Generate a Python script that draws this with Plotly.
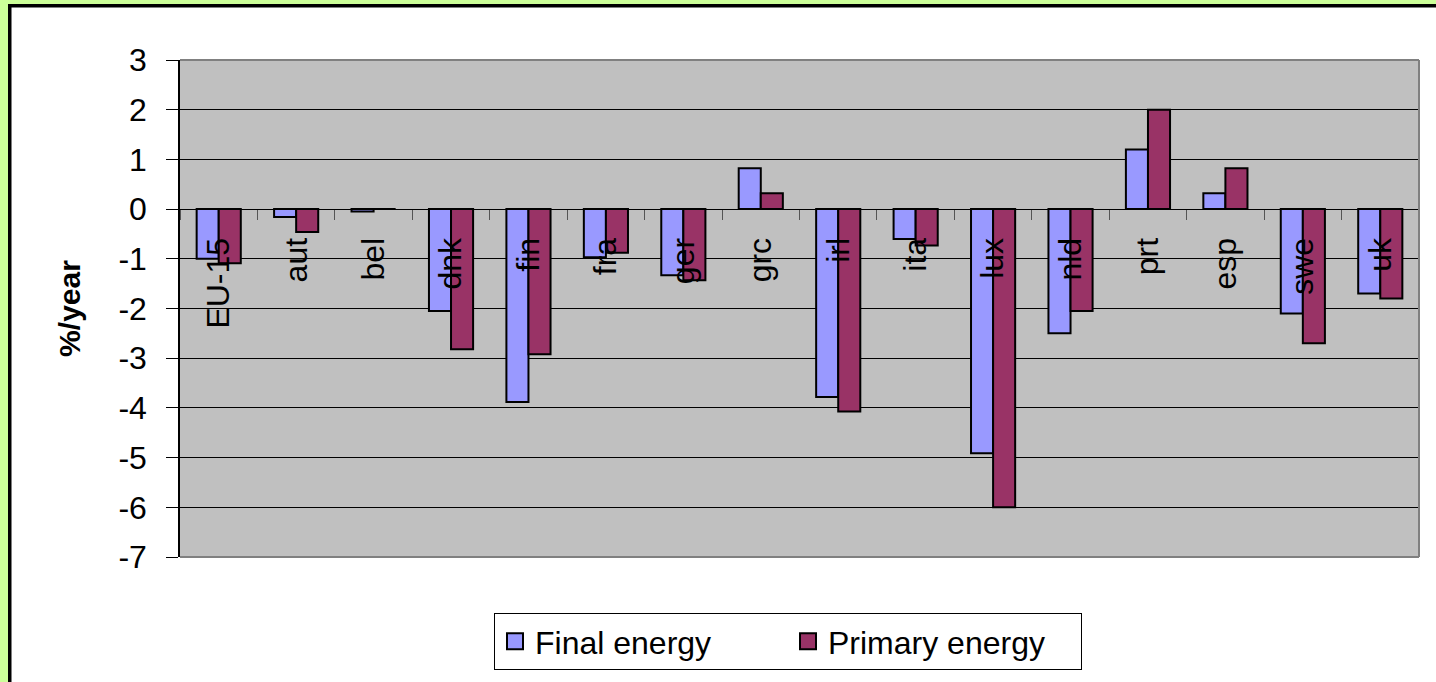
import plotly.graph_objects as go

categories = ["EU-15", "aut", "bel", "dnk", "fin", "fra", "ger", "grc",
              "irl", "ita", "lux", "nld", "prt", "esp", "swe", "uk"]
final_energy = [-1.0, -0.16, -0.05, -2.05, -3.88, -0.97, -1.33, 0.82,
                -3.78, -0.6, -4.91, -2.5, 1.2, 0.32, -2.1, -1.7]
primary_energy = [-1.09, -0.46, 0.0, -2.82, -2.92, -0.88, -1.43, 0.32,
                  -4.07, -0.73, -6.0, -2.05, 2.0, 0.82, -2.7, -1.8]
y_ticks = [3, 2, 1, 0, -1, -2, -3, -4, -5, -6, -7]
y_tick_text = ["3", "2", "1", "0", "-1", "-2", "-3", "-4", "-5", "-6", "-7"]

FINAL_C = "#9999FF"
PRIM_C = "#993366"
FONT = "Liberation Sans, Arial, sans-serif"

W, H = 1436, 682
L, R, T, B = 180, 17, 60, 125
PW, PH = W - L - R, H - T - B


def px(x):
    return (x - L) / PW


def py(y):
    return (H - B - y) / PH


fig = go.Figure()
fig.add_trace(go.Bar(x=categories, y=final_energy, name="Final energy",
                     marker=dict(color=FINAL_C, line=dict(color="black", width=2)),
                     showlegend=False))
fig.add_trace(go.Bar(x=categories, y=primary_energy, name="Primary energy",
                     marker=dict(color=PRIM_C, line=dict(color="black", width=2)),
                     showlegend=False))
for nm, c in [("Final energy", FINAL_C), ("Primary energy", PRIM_C)]:
    fig.add_trace(go.Scatter(x=[None], y=[None], mode="markers", name=nm,
                             marker=dict(symbol="square", size=16, color=c,
                                         line=dict(color="black", width=2))))

ymin, ymax = min(y_ticks), max(y_ticks)
shapes = [
    # page frame (green border + black line)
    dict(type="rect", xref="paper", yref="paper", x0=px(-5), x1=px(8), y0=py(700), y1=py(-5),
         fillcolor="#CCFF99", line=dict(width=0), layer="below"),
    dict(type="rect", xref="paper", yref="paper", x0=px(-5), x1=px(1450), y0=py(4), y1=py(-5),
         fillcolor="#CCFF99", line=dict(width=0), layer="below"),
    dict(type="rect", xref="paper", yref="paper", x0=px(8), x1=px(11.5), y0=py(700), y1=py(4),
         fillcolor="black", line=dict(width=0), layer="below"),
    dict(type="rect", xref="paper", yref="paper", x0=px(8), x1=px(1450), y0=py(7.5), y1=py(4),
         fillcolor="black", line=dict(width=0), layer="below"),
    # plot area border (gray) top, right, bottom
    dict(type="line", xref="x domain", yref="y domain", x0=0, x1=1, y0=1, y1=1,
         line=dict(color="#808080", width=2), layer="above"),
    dict(type="line", xref="x domain", yref="y domain", x0=1, x1=1, y0=0, y1=1,
         line=dict(color="#808080", width=2), layer="above"),
    dict(type="line", xref="x domain", yref="y domain", x0=0, x1=1, y0=0, y1=0,
         line=dict(color="#808080", width=2), layer="above"),
]

fig.update_layout(
    width=W, height=H,
    margin=dict(l=L, r=R, t=T, b=B, autoexpand=False),
    paper_bgcolor="white",
    plot_bgcolor="#C0C0C0",
    barmode="group", bargap=0.43, bargroupgap=0,
    font=dict(family=FONT, size=32, color="black"),
    shapes=shapes,
    xaxis=dict(type="category", categoryorder="array", categoryarray=categories,
               anchor="free", position=(0 - ymin) / (ymax - ymin),
               showline=True, linecolor="black", linewidth=1,
               showgrid=False, ticks="outside", tickson="boundaries",
               ticklen=10, tickcolor="#555555", tickwidth=1,
               tickangle=-90, tickfont=dict(size=32), ticklabelstandoff=15,
               automargin=False, fixedrange=True),
    yaxis=dict(range=[ymin, ymax], tickmode="array", tickvals=y_ticks,
               ticktext=y_tick_text,
               showgrid=True, gridcolor="black", gridwidth=1, zeroline=False,
               showline=True, linecolor="black", linewidth=1.5,
               ticks="outside", ticklen=12, tickcolor="black",
               tickfont=dict(size=32), ticklabelstandoff=13,
               title=dict(text="<b>%/year</b>", font=dict(size=30), standoff=29),
               automargin=False, fixedrange=True),
    legend=dict(orientation="h", x=px(788), xanchor="center", y=py(613), yanchor="top",
                bgcolor="white", bordercolor="black", borderwidth=1,
                font=dict(size=32), entrywidth=248, itemclick=False,
                itemsizing="trace", itemwidth=30),
)

fig.write_html("out.html", config={"displayModeBar": False},
               post_script="document.body.style.margin='0px';")
